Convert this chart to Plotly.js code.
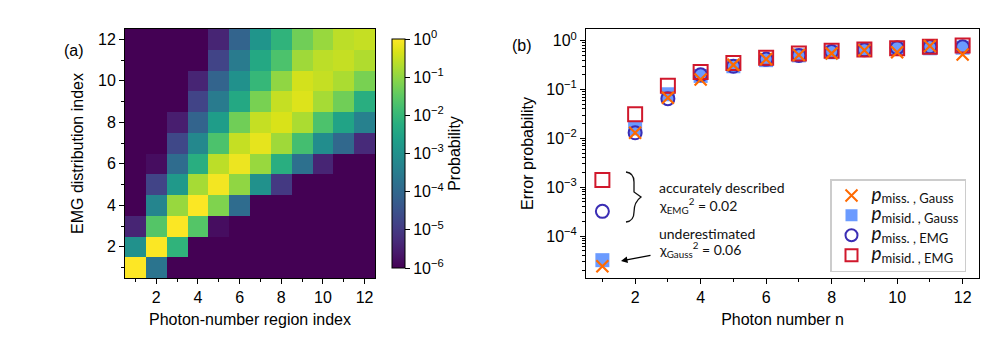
<!DOCTYPE html>
<html>
<head>
<meta charset="utf-8">
<script src="https://cdn.plot.ly/plotly-3.0.1.min.js"></script>
<style>
  html, body { margin: 0; padding: 0; background: #fff; }
  #chart { width: 997px; height: 348px; }
</style>
</head>
<body>
<div id="chart"></div>
<script>
// (a) probabilities, rows = EMG distribution index 1..12, columns = photon-number region 1..12
var regionIdx = [1, 2, 3, 4, 5, 6, 7, 8, 9, 10, 11, 12];
var emgIdx = [1, 2, 3, 4, 5, 6, 7, 8, 9, 10, 11, 12];
var prob = [
  [1, 2e-4, 0, 0, 0, 0, 0, 0, 0, 0, 0, 0],
  [1e-3, 0.95, 8e-3, 0, 0, 0, 0, 0, 0, 0, 0, 0],
  [4e-6, 0.025, 0.95, 0.025, 1.6e-6, 0, 0, 0, 0, 0, 0, 0],
  [0, 5e-4, 0.12, 0.95, 0.07, 1.3e-4, 0, 0, 0, 0, 0, 0],
  [0, 1.6e-5, 1.6e-3, 0.16, 0.8, 0.1, 1e-3, 1e-5, 0, 0, 0, 0],
  [0, 1.6e-6, 1.3e-4, 6e-3, 0.25, 0.7, 0.12, 6e-3, 1.6e-4, 4e-6, 0, 0],
  [0, 0, 2e-5, 6e-4, 0.02, 0.3, 0.6, 0.14, 0.016, 8e-4, 1e-4, 5e-6],
  [0, 0, 3e-6, 8e-5, 2e-3, 0.05, 0.3, 0.45, 0.18, 0.02, 3e-3, 4e-4],
  [0, 0, 0, 1.6e-5, 3e-4, 4e-3, 0.06, 0.3, 0.5, 0.16, 0.05, 6e-3],
  [0, 0, 0, 4e-6, 8e-5, 1e-3, 0.01, 0.1, 0.4, 0.3, 0.18, 0.06],
  [0, 0, 0, 0, 1.6e-5, 3e-4, 4e-3, 0.02, 0.14, 0.25, 0.3, 0.2],
  [0, 0, 0, 0, 4e-6, 8e-5, 1.3e-3, 8e-3, 0.05, 0.12, 0.25, 0.3]
];
var cbExp = [-6, -5, -4, -3, -2, -1, 0];

// (b) error probabilities vs photon number
var photonN = [1, 2, 3, 4, 5, 6, 7, 8, 9, 10, 11, 12];
var pMissGauss = [2.4e-5, 0.013, 0.068, 0.16, 0.32, 0.42, 0.51, 0.55, 0.64, 0.58, 0.78, 0.52];
var pMisidGauss = [3.2e-5, 0.016, 0.08, 0.19, 0.3, 0.4, 0.5, 0.58, 0.65, 0.68, 0.7, 0.72];
var pMissEMG = [3.2e-4, 0.013, 0.065, 0.2, 0.3, 0.42, 0.5, 0.6, 0.65, 0.72, 0.75, 0.75];
var pMisidEMG = [1.4e-3, 0.031, 0.12, 0.23, 0.35, 0.45, 0.55, 0.62, 0.66, 0.7, 0.75, 0.8];
var bTickVals = [1e-4, 1e-3, 1e-2, 1e-1, 1];

var W = 997, H = 348;
function px(x) { return x / W; }
function py(y) { return 1 - y / H; }

var logZ = prob.map(function (row) {
  return row.map(function (v) { return v > 0 ? Math.max(Math.log10(v), -6) : -6; });
});

var sans = 'Liberation Sans, Arial, sans-serif';
var ticksFont = { family: sans, size: 16, color: '#000' };

var heat = {
  type: 'heatmap', x: regionIdx, y: emgIdx, z: logZ,
  colorscale: 'Viridis', zmin: -6, zmax: 0,
  xaxis: 'x', yaxis: 'y', hoverinfo: 'skip',
  colorbar: {
    x: px(382), xanchor: 'left', thickness: 13, thicknessmode: 'pixels',
    y: py(153.5), yanchor: 'middle', len: (278 - 29) / H, lenmode: 'fraction',
    outlinewidth: 1, outlinecolor: '#000',
    ticks: 'outside', ticklen: 5, tickcolor: '#000',
    tickmode: 'array', tickvals: cbExp,
    ticktext: cbExp.map(function (e) { return '10<sup>' + (e < 0 ? '\u2212' + (-e) : e) + '</sup>'; }),
    tickfont: ticksFont,
    title: { text: 'Probability', side: 'right', font: { family: sans, size: 16, color: '#000' } }
  }
};

// legend label: big italic p with a lowered subscript
function pLabel(sub) {
  return '<span style="font-size:19px"><i>p</i></span><sub><span style="font-size:13px">' + sub + '</span></sub>';
}

var mk = { xaxis: 'x2', yaxis: 'y2', type: 'scatter', mode: 'markers', hoverinfo: 'skip' };
var trMisidG = Object.assign({}, mk, {
  x: photonN, y: pMisidGauss, name: pLabel('misid. , Gauss'), legendrank: 2,
  marker: { symbol: 'square', size: 14, color: '#6b9bff', line: { width: 0 } }
});
var trMissE = Object.assign({}, mk, {
  x: photonN, y: pMissEMG, name: pLabel('miss. , EMG'), legendrank: 3,
  marker: { symbol: 'circle-open', size: 13, color: '#3a2db4', line: { width: 2 } }
});
var trMisidE = Object.assign({}, mk, {
  x: photonN, y: pMisidEMG, name: pLabel('misid. , EMG'), legendrank: 4,
  marker: { symbol: 'square-open', size: 14, color: '#d0182c', line: { width: 2 } }
});
var trMissG = Object.assign({}, mk, {
  x: photonN, y: pMissGauss, name: pLabel('miss. , Gauss'), legendrank: 1,
  marker: { symbol: 'x-thin-open', size: 12, color: '#ff6a00', line: { width: 2.2, color: '#ff6a00' } }
});

var axLine = { showline: true, linecolor: '#000', linewidth: 1, mirror: true, zeroline: false,
  showgrid: false, ticks: 'outside', ticklen: 5, tickcolor: '#000', automargin: false };

var noteFont = { family: 'Lato, Noto Sans, sans-serif', size: 14, color: '#111' };

// curly brace next to the EMG points (pixel outline -> paper coords)
function bracePath() {
  var p = [[626, 172], [634, 173], [634, 182], [634, 192], [641, 197], [634, 202], [634, 212], [634, 221], [626, 222]];
  var c = p.map(function (q) { return px(q[0]).toFixed(5) + ',' + py(q[1]).toFixed(5); });
  return 'M' + c[0] + ' Q' + c[1] + ' ' + c[2] + ' L' + c[3] + ' Q' + c[3] + ' ' + c[4] +
    ' Q' + c[5] + ' ' + c[6] + ' L' + c[6] + ' Q' + c[7] + ' ' + c[8];
}

var layout = {
  width: W, height: H,
  margin: { l: 0, r: 0, t: 0, b: 0 },
  paper_bgcolor: '#fff', plot_bgcolor: '#fff',
  font: { family: sans, color: '#000' },
  xaxis: Object.assign({}, axLine, {
    domain: [px(125), px(375)], anchor: 'y', range: [0.5, 12.5],
    tickmode: 'array', tickvals: [2, 4, 6, 8, 10, 12], tickfont: ticksFont,
    minor: { tickmode: 'array', tickvals: [1, 3, 5, 7, 9, 11], ticks: 'outside', ticklen: 3, tickcolor: '#000' },
    title: { text: 'Photon-number region index', font: { family: sans, size: 16 }, standoff: 8 }
  }),
  yaxis: Object.assign({}, axLine, {
    domain: [py(278), py(29)], anchor: 'x', range: [0.5, 12.5],
    tickmode: 'array', tickvals: [2, 4, 6, 8, 10, 12], tickfont: ticksFont,
    minor: { tickmode: 'array', tickvals: [1, 3, 5, 7, 9, 11], ticks: 'outside', ticklen: 3, tickcolor: '#000' },
    title: { text: 'EMG distribution index', font: { family: sans, size: 16 }, standoff: 10 }
  }),
  xaxis2: Object.assign({}, axLine, {
    domain: [px(586), px(979)], anchor: 'y2', range: [0.5, 12.5],
    tickmode: 'array', tickvals: [2, 4, 6, 8, 10, 12], tickfont: ticksFont,
    minor: { tickmode: 'array', tickvals: [1, 3, 5, 7, 9, 11], ticks: 'outside', ticklen: 3, tickcolor: '#000' },
    title: { text: 'Photon number n', font: { family: sans, size: 16 }, standoff: 8 }
  }),
  yaxis2: Object.assign({}, axLine, {
    domain: [py(278), py(29)], anchor: 'x2', type: 'log', range: [-4.86, 0.24],
    tickmode: 'array', tickvals: bTickVals, tickfont: ticksFont,
    ticktext: bTickVals.map(function (v) {
      var e = Math.round(Math.log10(v));
      return '10<sup>' + (e < 0 ? '\u2212' + (-e) : e) + '</sup>';
    }),
    minor: { dtick: 'D1', ticks: 'outside', ticklen: 3, tickcolor: '#000' },
    title: { text: 'Error probability', font: { family: sans, size: 16 }, standoff: 8 }
  }),
  showlegend: true,
  legend: {
    x: px(830), y: py(179), xanchor: 'left', yanchor: 'top',
    bgcolor: '#fff', bordercolor: '#cccccc', borderwidth: 1.5,
    font: { family: 'Lato, Noto Sans, sans-serif', size: 13, color: '#111' },
    tracegroupgap: 0, itemsizing: 'constant'
  },
  shapes: [
    { type: 'path', xref: 'paper', yref: 'paper', path: bracePath(), line: { color: '#111', width: 1.3 } }
  ],
  annotations: [
    { xref: 'paper', yref: 'paper', x: px(62), y: py(40), text: '(a)', showarrow: false, font: { family: sans, size: 16 } },
    { xref: 'paper', yref: 'paper', x: px(522), y: py(35), text: '(b)', showarrow: false, font: { family: sans, size: 16 } },
    { xref: 'paper', yref: 'paper', x: px(657), y: py(187), xanchor: 'left', text: 'accurately described', showarrow: false, font: noteFont },
    { xref: 'paper', yref: 'paper', x: px(657), y: py(205), xanchor: 'left',
      text: '\u03c7<sub>EMG</sub><sup>2</sup> = 0.02', showarrow: false, font: noteFont },
    { xref: 'paper', yref: 'paper', x: px(657), y: py(244), xanchor: 'left', text: 'underestimated', showarrow: false, font: noteFont },
    { xref: 'paper', yref: 'paper', x: px(657), y: py(262), xanchor: 'left',
      text: '\u03c7<sub>Gauss</sub><sup>2</sup> = 0.06', showarrow: false, font: noteFont },
    { xref: 'paper', yref: 'paper', x: px(621), y: py(261), text: '', showarrow: true,
      ax: 31, ay: -6, arrowhead: 2, arrowsize: 1, arrowwidth: 1.3, arrowcolor: '#000' }
  ]
};

Plotly.newPlot('chart', [heat, trMisidG, trMissE, trMisidE, trMissG], layout, { displayModeBar: false, staticPlot: true });
</script>
</body>
</html>
